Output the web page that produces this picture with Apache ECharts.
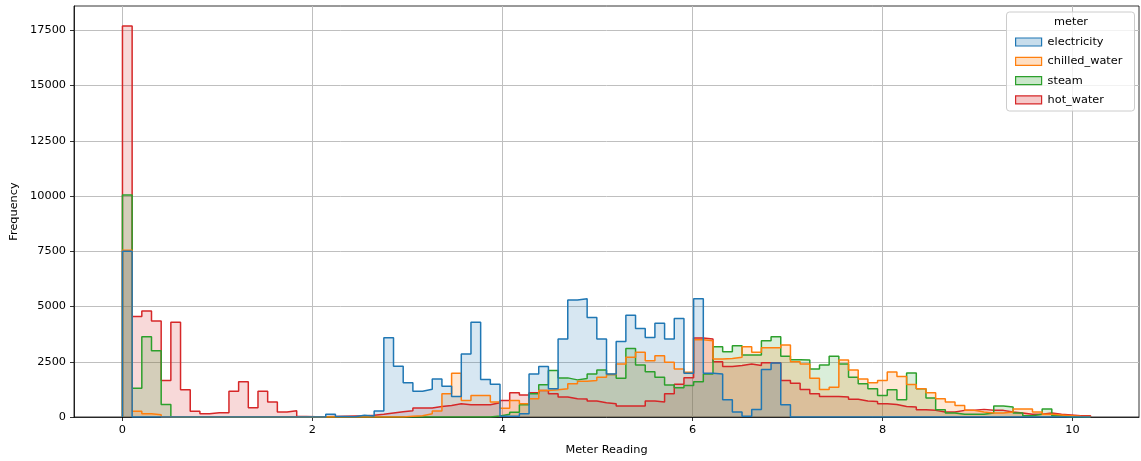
<!DOCTYPE html>
<html>
<head>
<meta charset="utf-8">
<script src="https://cdn.jsdelivr.net/npm/echarts@6/dist/echarts.min.js"></script>
<style>
html,body{margin:0;padding:0;background:#fff;}
#chart{width:1141px;height:461px;}
</style>
</head>
<body>
<div id="chart"></div>
<script>
// ---- data (histogram counts per bin, 100 bins over 0 .. 10.19) ----
const BIN_START = 0;
const BIN_END = 10.19;
const BIN_COUNT = 100;
const xTicks = [0, 2, 4, 6, 8, 10];
const yTicks = [0, 2500, 5000, 7500, 10000, 12500, 15000, 17500];
const meters = ['electricity', 'chilled_water', 'steam', 'hot_water'];
const colors = ['#1f77b4', '#ff7f0e', '#2ca02c', '#d62728'];

const electricity = [
  7500, 0, 0, 0, 0, 0, 0, 0, 0, 0,
  0, 0, 0, 0, 0, 0, 0, 0, 0, 0,
  0, 120, 20, 10, 75, 40, 270, 3585, 2295, 1545,
  1170, 1260, 1725, 1395, 930, 2850, 4290, 1695, 1485, 30,
  30, 150, 1950, 2280, 1275, 3525, 5295, 5355, 4500, 3525,
  1950, 3420, 4605, 4005, 3600, 4245, 3525, 4455, 1980, 5355,
  1980, 1950, 780, 225, 30, 345, 2145, 2445, 555, 0,
  0, 0, 0, 0, 0, 0, 0, 0, 0, 0,
  0, 0, 0, 0, 0, 0, 0, 0, 0, 0,
  0, 0, 0, 0, 0, 0, 0, 0, 0, 0
];
const chilled_water = [
  7550, 255, 150, 100, 0, 0, 0, 0, 0, 0,
  0, 0, 0, 0, 0, 0, 0, 0, 0, 0,
  0, 0, 0, 0, 0, 0, 0, 0, 0, 30,
  60, 150, 270, 1050, 1980, 750, 975, 975, 675, 400,
  750, 600, 825, 1200, 1230, 1275, 1500, 1620, 1650, 1800,
  1920, 2400, 2700, 2925, 2550, 2775, 2475, 2175, 2025, 3500,
  3450, 2625, 2650, 2700, 3180, 2925, 3130, 3130, 3255, 2500,
  2400, 1750, 1250, 1350, 2580, 2130, 1725, 1545, 1650, 2040,
  1830, 1470, 1275, 1095, 825, 675, 525, 300, 225, 180,
  180, 225, 360, 360, 225, 120, 90, 60, 30, 20
];
const steam = [
  10050, 1305, 3630, 3000, 570, 0, 0, 0, 0, 0,
  0, 0, 0, 0, 0, 0, 0, 0, 0, 0,
  0, 0, 0, 0, 0, 0, 0, 0, 0, 0,
  0, 0, 0, 0, 0, 0, 0, 0, 50, 120,
  220, 555, 1050, 1455, 2100, 1770, 1680, 1740, 1950, 2130,
  1920, 1750, 3105, 2350, 2050, 1800, 1450, 1320, 1425, 1600,
  1950, 3180, 2955, 3225, 2805, 2805, 3450, 3630, 2750, 2595,
  2580, 2175, 2355, 2745, 2400, 1800, 1500, 1275, 975, 1230,
  780, 1995, 1275, 855, 330, 180, 120, 120, 120, 180,
  495, 450, 180, 60, 120, 360, 60, 0, 0, 0
];
const hot_water = [
  17700, 4545, 4800, 4350, 1650, 4290, 1230, 255, 150, 195,
  195, 1170, 1590, 420, 1170, 675, 225, 285, 20, 10,
  10, 20, 30, 40, 50, 80, 120, 180, 240, 285,
  405, 405, 480, 525, 600, 555, 555, 555, 645, 750,
  1100, 1000, 1100, 1200, 1050, 900, 830, 820, 720, 650,
  600, 500, 500, 500, 720, 680, 1050, 1480, 1780, 3570,
  3530, 2500, 2280, 2330, 2400, 2330, 2450, 2450, 1650, 1530,
  1250, 1050, 930, 930, 900, 800, 720, 700, 600, 570,
  480, 450, 330, 300, 225, 225, 300, 300, 345, 300,
  300, 225, 180, 120, 120, 180, 120, 90, 60, 60
];
const counts = { electricity, chilled_water, steam, hot_water };

// ---- build step data from bin edges ----
const binW = (BIN_END - BIN_START) / BIN_COUNT;
const edges = [];
for (let i = 0; i <= BIN_COUNT; i++) edges.push(BIN_START + i * binW);
function stepData(c) {
  const d = [[edges[0], 0]];
  c.forEach((v, i) => d.push([edges[i], v]));
  d.push([edges[BIN_COUNT], 0]);
  return d;
}
function rgba(hex, a) {
  const n = parseInt(hex.slice(1), 16);
  return 'rgba(' + (n >> 16) + ',' + ((n >> 8) & 255) + ',' + (n & 255) + ',' + a + ')';
}

const FONT = 'DejaVu Sans';
const FS = 11.3;

// draw order: hot_water first, electricity last (on top)
const series = [];
for (let k = meters.length - 1; k >= 0; k--) {
  const m = meters[k];
  series.push({
    name: m,
    type: 'line',
    step: 'end',
    data: stepData(counts[m]),
    showSymbol: false,
    symbol: 'none',
    silent: true,
    lineStyle: { color: colors[k], width: 1.5 },
    itemStyle: { color: rgba(colors[k], 0.25), borderColor: colors[k], borderWidth: 1.5 },
    areaStyle: { color: rgba(colors[k], 0.25), origin: 'start' },
    z: 2
  });
}

const chart = echarts.init(document.getElementById('chart'), null, { renderer: 'canvas' });
chart.setOption({
  animation: false,
  backgroundColor: '#ffffff',
  grid: {
    left: 74, top: 6, width: 1065, height: 414,
    show: true, borderColor: '#000000', borderWidth: 0.8, backgroundColor: 'transparent'
  },
  xAxis: {
    type: 'value', min: -0.51, max: 10.70,
    name: 'Meter Reading', nameLocation: 'middle', nameGap: 28,
    nameTextStyle: { fontFamily: FONT, fontSize: FS, color: '#000' },
    axisLine: { show: true, onZero: false, lineStyle: { color: '#000', width: 0.8 } },
    axisTick: { show: true, length: 4, lineStyle: { color: '#000', width: 0.8 }, customValues: xTicks },
    axisLabel: { fontFamily: FONT, fontSize: FS, color: '#000', margin: 8, customValues: xTicks },
    splitLine: { show: true, lineStyle: { color: '#bfbfbf', width: 1 } }
  },
  yAxis: {
    type: 'value', min: 0, max: 18600,
    name: 'Frequency', nameLocation: 'middle', nameGap: 52,
    nameTextStyle: { fontFamily: FONT, fontSize: FS, color: '#000' },
    axisLine: { show: true, onZero: false, lineStyle: { color: '#000', width: 0.8 } },
    axisTick: { show: true, length: 4, lineStyle: { color: '#000', width: 0.8 }, customValues: yTicks },
    axisLabel: {
      fontFamily: FONT, fontSize: FS, color: '#000', margin: 8, customValues: yTicks,
      formatter: v => String(Math.round(v))
    },
    splitLine: { show: true, lineStyle: { color: '#bfbfbf', width: 1 } }
  },
  legend: {
    orient: 'vertical', left: 1010, top: 30,
    itemWidth: 26, itemHeight: 8, itemGap: 5.3,
    icon: 'rect',
    selectedMode: false,
    textStyle: { fontFamily: FONT, fontSize: FS, color: '#000', lineHeight: 14, padding: [0, 0, 0, 1] },
    data: meters.map((m, k) => ({
      name: m, icon: 'rect',
      itemStyle: { color: rgba(colors[k], 0.25), borderColor: colors[k], borderWidth: 1.2 }
    })),
    z: 6
  },
  graphic: [
    {
      type: 'rect', z: 5, silent: true,
      shape: { x: 1006.5, y: 12, width: 128, height: 99, r: 3 },
      style: { fill: 'rgba(255,255,255,0.8)', stroke: '#cccccc', lineWidth: 1 }
    },
    {
      type: 'text', z: 6, silent: true,
      left: 1070 - 16, top: 17,
      style: { text: 'meter', font: FS + 'px "' + FONT + '"', fill: '#000' }
    }
  ],
  series: series
});
</script>
</body>
</html>
